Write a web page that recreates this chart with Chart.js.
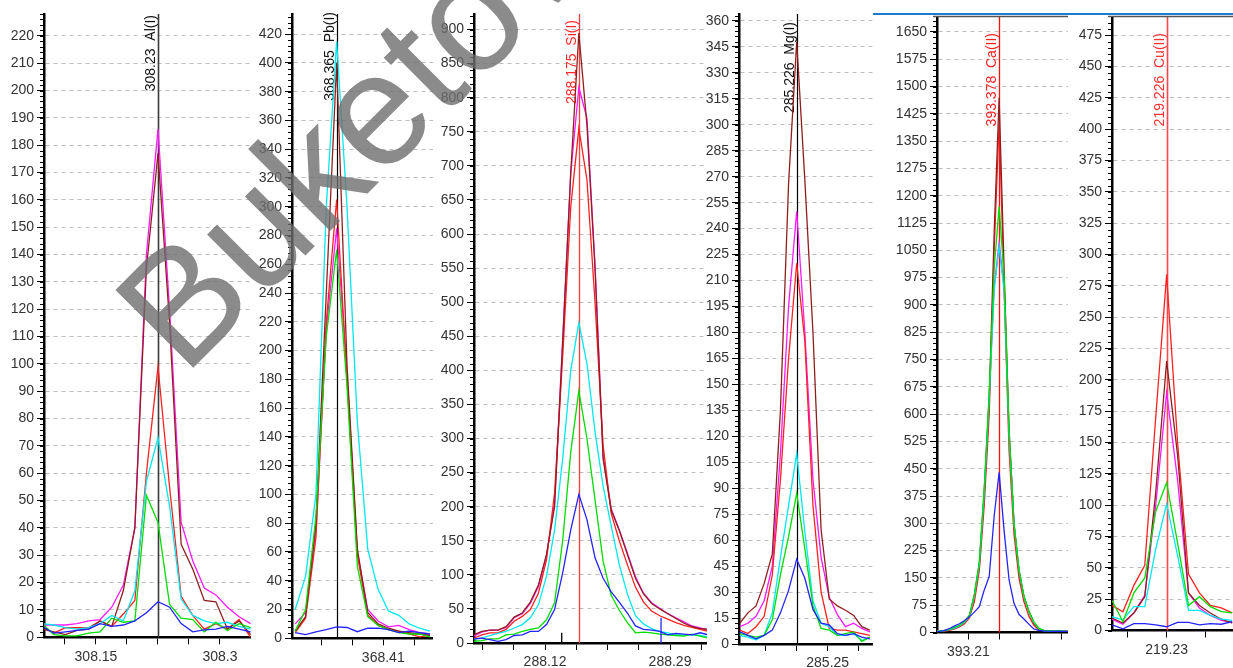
<!DOCTYPE html>
<html>
<head>
<meta charset="utf-8">
<script src="https://cdn.jsdelivr.net/npm/chart.js@4.4.1/dist/chart.umd.min.js"></script>
<style>
  html, body { margin: 0; padding: 0; background: #fff; }
  #wrap { position: relative; width: 1233px; height: 668px; overflow: hidden; background: #fff; }
  #wrap canvas { position: absolute; top: 0; }
  #topline { position: absolute; left: 873px; top: 13px; width: 360px; height: 2px; background: #1b7ad2; }
</style>
</head>
<body>
<div id="wrap"><div id="topline"></div></div>
<script>
// ---- Al(I) 308.23 ----
const alX = [308.085, 308.099, 308.113, 308.127, 308.141, 308.155, 308.169, 308.183, 308.197, 308.211,
             308.225, 308.239, 308.253, 308.267, 308.281, 308.295, 308.309, 308.323, 308.337];
const alMagenta = [4.5, 4.5, 4.5, 5, 6, 6.5, 11, 19, 40, 140, 186, 120, 42, 28, 18, 15.5, 11, 7.5, 5];
const alBrown   = [3, 2, 1, 2.5, 3, 6, 4, 17, 40, 135, 177, 115, 34, 25, 13.5, 13, 3, 6, 1];
const alRed     = [4, 1.5, 3.5, 3.5, 3.5, 6, 4, 8.5, 13.5, 60, 99, 55, 15, 8, 3, 5, 3, 6.5, 0];
const alCyan    = [5, 4.5, 3.5, 3, 3.5, 5, 8, 6, 17, 57, 73, 48, 14, 8, 6, 5, 5.5, 4, 3];
const alGreen   = [5, 1, 0.5, 0.5, 1.5, 2, 7, 5.5, 6, 52, 42, 12, 7, 6.5, 2, 5.5, 2.5, 5, 3.5];
const alBlue    = [4, 1.5, 2, 2.5, 3, 5, 4, 4.5, 6, 9, 13, 11, 5, 2, 2.7, 3, 4, 3, 2];
const alXTicks  = [308.1125, 308.15, 308.1875, 308.225, 308.2625, 308.3];
const alXLabels = ['', '308.15', '', '', '', '308.3'];

// ---- Pb(I) 368.365 ----
const pbX = [368.325, 368.335, 368.345, 368.355, 368.365, 368.375, 368.385,
             368.395, 368.405, 368.415, 368.425, 368.435, 368.445, 368.455];
const pbCyan    = [20, 43, 100, 300, 415, 300, 150, 62, 34, 19, 16, 10, 7, 5];
const pbBrown   = [5, 15, 80, 240, 400, 190, 62, 18, 10, 7, 5, 4, 3, 2];
const pbRed     = [4, 14, 70, 220, 305, 180, 58, 16, 9, 6, 5, 3, 1, 2];
const pbMagenta = [10, 18, 75, 215, 285, 185, 60, 20, 12, 8, 9, 6, 4, 3];
const pbGreen   = [5, 20, 85, 210, 270, 175, 50, 15, 9, 6, 4, 3, 3, 1];
const pbBlue    = [4, 2.5, 4.5, 6, 8, 7.5, 4.6, 7, 7, 6, 4, 5, 4, 3];
const pbXTicks  = [368.35, 368.38, 368.41, 368.44];
const pbXLabels = ['', '', '368.41', ''];

// ---- Si(I) 288.175 ----
const siX = [288.023, 288.034, 288.045, 288.056, 288.067, 288.078, 288.089, 288.100, 288.111, 288.122,
             288.133, 288.144, 288.155, 288.166, 288.177, 288.188, 288.199, 288.210, 288.221, 288.232,
             288.243, 288.254, 288.265, 288.276, 288.287, 288.298, 288.309, 288.320, 288.331, 288.342];
const siBrown   = [12, 17, 19, 19, 24, 38, 44, 60, 85, 130, 200, 440, 690, 895, 760, 550, 270, 195, 165, 130,
                   95, 72, 58, 50, 43, 36, 29, 24, 21, 20];
const siMagenta = [10, 16, 19, 19, 23, 37, 43, 58, 83, 128, 205, 445, 690, 815, 770, 555, 275, 197, 166, 132,
                   97, 73, 59, 51, 43, 37, 31, 25, 22, 19];
const siRed     = [7, 12, 15, 15, 20, 32, 39, 49, 73, 122, 220, 420, 640, 755, 680, 500, 290, 190, 150, 115,
                   82, 60, 47, 40, 35, 30, 26, 23, 20, 17];
const siCyan    = [6, 7, 11, 14, 17, 22, 27, 37, 56, 98, 166, 270, 400, 470, 410, 310, 230, 172, 115, 72,
                   40, 28, 21, 17, 15, 12, 12, 12, 11, 9];
const siGreen   = [2.5, 3.5, 6, 6, 12, 13, 17, 20, 22, 34, 59, 150, 280, 370, 300, 210, 120, 70, 48, 30,
                   15, 16, 15, 13, 12, 11, 10, 13, 10, 7];
const siBlue    = [6, 7, 5, 2.5, 5, 11, 12, 17, 17, 27, 49, 103, 166, 218, 181, 125, 95, 75, 60, 44,
                   25, 20, 19, 17, 12, 14, 13, 12, 15, 12];
const siMarkX   = [288.1427, 288.2778];
const siMarkTop = [15, 37];
const siXTicks  = [288.035, 288.0775, 288.12, 288.1625, 288.205, 288.2475, 288.29, 288.3325];
const siXLabels = ['', '', '288.12', '', '', '', '288.29', ''];

// ---- Mg(I) 285.226 ----
const mgX = [285.1819, 285.1882, 285.1945, 285.2008, 285.2071, 285.2134, 285.2197, 285.226, 285.2323,
             285.2386, 285.2449, 285.2512, 285.2575, 285.2638, 285.2701, 285.2764, 285.2827];
const mgBrown   = [12, 18, 22, 35, 52, 135, 266, 348, 268, 180, 66, 26, 22, 19.5, 16.5, 10, 8];
const mgMagenta = [10, 12, 16, 25, 45, 110, 195, 250, 180, 95, 50, 27, 17, 10, 12, 9, 7];
const mgRed     = [8, 6, 10, 16, 40, 95, 165, 220, 175, 80, 30, 9, 8, 8, 7, 6, 5];
const mgCyan    = [5, 4, 2.5, 5, 18, 50, 80, 110, 65, 25, 12, 10, 5, 5, 6, 2, 4];
const mgGreen   = [6, 5, 4, 5, 14, 40, 62, 87, 55, 22, 9, 8, 5, 6, 7, 1.5, 4];
const mgBlue    = [7, 5, 3, 5, 8, 18, 31, 49, 38, 20, 12, 11, 6, 5, 6, 4, 3];
const mgXTicks  = [285.202, 285.226, 285.25, 285.274];
const mgXLabels = ['', '', '285.25', ''];

// ---- Ca(II) 393.378 ----
const caX = [393.027, 393.054, 393.081, 393.108, 393.135, 393.162, 393.189, 393.216, 393.243, 393.270,
             393.297, 393.324, 393.351, 393.378, 393.405, 393.432, 393.459, 393.486, 393.513, 393.540,
             393.567, 393.594, 393.621, 393.648, 393.675, 393.702, 393.729, 393.756];
const caBrown   = [2, 3, 5, 8, 12, 18, 28, 45, 100, 185, 380, 640, 1100, 1470, 1000, 557, 300, 170, 99, 60,
                   26, 10, 5, 4, 3, 4, 3, 3];
const caRed     = [2, 3, 4, 6, 10, 15, 24, 40, 85, 170, 350, 600, 1050, 1400, 950, 500, 270, 150, 85, 45,
                   20, 8, 5, 4, 3, 4, 3, 3];
const caGreen   = [3, 4, 6, 9, 14, 20, 30, 48, 105, 195, 400, 660, 1000, 1170, 980, 560, 300, 175, 100, 58,
                   30, 12, 6, 5, 4, 5, 4, 3];
const caMagenta = [3, 4, 6, 9, 13, 19, 29, 46, 102, 190, 390, 650, 950, 1070, 950, 550, 295, 170, 97, 56,
                   27, 11, 6, 5, 4, 4, 3, 3];
const caCyan    = [3, 4, 5, 8, 12, 18, 28, 45, 100, 188, 385, 645, 940, 1060, 940, 545, 300, 172, 98, 57,
                   28, 11, 5, 4, 3, 4, 3, 3];
const caBlue    = [2, 3, 6, 11, 18, 24, 33, 43, 56, 71, 117, 154, 320, 440, 280, 145, 80, 50, 37, 23,
                   10, 6, 4, 4, 3, 4, 3, 3];
const caXTicks  = [393.21, 393.38, 393.55, 393.72];
const caXLabels = ['393.21', '', '', ''];

// ---- Cu(II) 219.226 ----
const cuX = [219.198, 219.2036, 219.2092, 219.2148, 219.2204, 219.226,
             219.2316, 219.2372, 219.2428, 219.2484, 219.254, 219.2596];
const cuRed     = [20, 15, 36, 52, 170, 284, 150, 45, 30, 20, 18, 14];
const cuBrown   = [10, 6, 14, 27, 110, 215, 140, 30, 20, 14, 9, 6];
const cuMagenta = [9, 5, 14, 28, 100, 190, 120, 30, 18, 12, 8, 6];
const cuGreen   = [24, 7, 30, 42, 95, 118, 70, 20, 27, 19, 15, 14];
const cuCyan    = [11, 8.5, 19, 19, 65, 101, 60, 16, 16, 12, 9, 8];
const cuBlue    = [4.5, 1.3, 5.5, 5.5, 4.5, 3, 6.5, 6.5, 4.5, 5.5, 5, 7];
const cuXTicks  = [219.206, 219.226, 219.246];
const cuXLabels = ['', '219.23', ''];

// line colours, first one is drawn on top
const COLORS = { blue: '#2323ff', green: '#00dd00', cyan: '#00e8f0', brown: '#8f1f1f', red: '#ff2020', magenta: '#ff19ff' };
const ORDER = ['blue', 'green', 'cyan', 'brown', 'red', 'magenta'];
const FONT = "'Liberation Sans', Arial, sans-serif";

const panels = [
  { axisX: 44, right: 251, top: 14, zero: 637.3, yMax: 228, yStep: 10, yMinor: 2,
    xMin: 308.0871, xMax: 308.3375, x: alX, xTicks: alXTicks, xLabels: alXLabels,
    series: { magenta: alMagenta, brown: alBrown, red: alRed, cyan: alCyan, green: alGreen, blue: alBlue },
    marker: 308.225, markerText: '308.23  Al(I)', markerColor: '#3a3a3a', markerWidth: 1.6, textColor: '#111', textTop: 15 },
  { axisX: 292, right: 433, top: 14, zero: 638.3, yMax: 434, yStep: 20, yMinor: 4,
    xMin: 368.3219, xMax: 368.458, x: pbX, xTicks: pbXTicks, xLabels: pbXLabels,
    series: { magenta: pbMagenta, brown: pbBrown, red: pbRed, cyan: pbCyan, green: pbGreen, blue: pbBlue },
    marker: 368.365, markerText: '368.365  Pb(I)', markerColor: '#000', markerWidth: 1.2, textColor: '#111', textTop: 12 },
  { axisX: 474, right: 707, top: 14, zero: 643, yMax: 922.8, yStep: 50, yMinor: 10,
    xMin: 288.0234, xMax: 288.3403, x: siX, xTicks: siXTicks, xLabels: siXLabels,
    series: { magenta: siMagenta, brown: siBrown, red: siRed, cyan: siCyan, green: siGreen, blue: siBlue },
    marks: { x: siMarkX, top: siMarkTop, colors: ['#000', '#2323ff'] },
    marker: 288.166, markerText: '288.175  Si(I)', markerColor: '#ff3a3a', markerWidth: 1.3, textColor: '#ff2a2a', textTop: 20 },
  { axisX: 739, right: 873, top: 14, zero: 644, yMax: 364, yStep: 15, yMinor: 3,
    xMin: 285.1813, xMax: 285.2851, x: mgX, xTicks: mgXTicks, xLabels: mgXLabels,
    series: { magenta: mgMagenta, brown: mgBrown, red: mgRed, cyan: mgCyan, green: mgGreen, blue: mgBlue },
    marker: 285.226, markerText: '285.226  Mg(I)', markerColor: '#000', markerWidth: 1.2, textColor: '#111', textTop: 22 },
  { axisX: 937, right: 1068, top: 17, zero: 632.5, yMax: 1691, yStep: 75, yMinor: 15,
    xMin: 393.0394, xMax: 393.7533, x: caX, xTicks: caXTicks, xLabels: caXLabels,
    series: { magenta: caMagenta, brown: caBrown, red: caRed, cyan: caCyan, green: caGreen, blue: caBlue },
    marker: 393.378, markerText: '393.378  Ca(II)', markerColor: '#ff1010', markerWidth: 1.3, textColor: '#ff2020', textTop: 33, topBorder: true },
  { axisX: 1112, right: 1233, top: 17, zero: 630.5, yMax: 489.6, yStep: 25, yMinor: 5,
    xMin: 219.198, xMax: 219.26, x: cuX, xTicks: cuXTicks, xLabels: cuXLabels,
    series: { magenta: cuMagenta, brown: cuBrown, red: cuRed, cyan: cuCyan, green: cuGreen, blue: cuBlue },
    marker: 219.226, markerText: '219.226  Cu(II)', markerColor: '#ff4848', markerWidth: 1.6, textColor: '#ff3030', textTop: 33, topBorder: true }
];

const panelPlugin = {
  id: 'panel',
  beforeDatasetsDraw(chart, args, o) {
    const { ctx, chartArea } = chart;
    const px = Math.round(chart.scales.x.getPixelForValue(o.marker)) + 0.5;
    ctx.save();
    ctx.strokeStyle = o.markerColor;
    ctx.lineWidth = o.markerWidth;
    ctx.beginPath();
    ctx.moveTo(px, chartArea.top);
    ctx.lineTo(px, chartArea.bottom);
    ctx.stroke();
    ctx.translate(px - 4, o.textTop);
    ctx.rotate(-Math.PI / 2);
    ctx.fillStyle = o.textColor;
    ctx.font = '14px ' + FONT;
    ctx.textAlign = 'right';
    ctx.textBaseline = 'alphabetic';
    ctx.fillText(o.markerText, 0, 0);
    ctx.restore();
  },
  afterDraw(chart, args, o) {
    const { ctx, chartArea } = chart;
    const y = chart.scales.y;
    ctx.save();
    ctx.strokeStyle = '#000';
    ctx.lineWidth = 1;
    ctx.beginPath();
    for (let v = 0; v <= y.max; v += o.yMinor) {
      const py = Math.round(y.getPixelForValue(v)) + 0.5;
      ctx.moveTo(chartArea.left - 4, py);
      ctx.lineTo(chartArea.left, py);
    }
    ctx.stroke();
    if (o.topBorder) {
      ctx.strokeStyle = '#555';
      ctx.lineWidth = 1.5;
      ctx.beginPath();
      ctx.moveTo(chartArea.left - 4, chartArea.top - 0.5);
      ctx.lineTo(chartArea.right, chartArea.top - 0.5);
      ctx.stroke();
    }
    ctx.restore();
  }
};

const wrap = document.getElementById('wrap');

function makePanel(p) {
  const left = p.axisX - 50;
  const w = p.right - left;
  const canvas = document.createElement('canvas');
  canvas.width = w;
  canvas.height = 668;
  canvas.style.left = left + 'px';
  canvas.style.width = w + 'px';
  canvas.style.height = '668px';
  wrap.appendChild(canvas);

  const datasets = ORDER.map(name => ({
    label: name,
    data: p.x.map((x, i) => ({ x: x, y: p.series[name][i] })),
    borderColor: COLORS[name],
    borderWidth: 1.3,
    pointRadius: 0,
    tension: 0,
    fill: false
  }));
  if (p.marks) {
    p.marks.x.forEach((mx, i) => {
      datasets.unshift({
        label: 'mark' + i,
        data: [{ x: mx, y: 0 }, { x: mx, y: p.marks.top[i] }],
        borderColor: p.marks.colors[i],
        borderWidth: 1.3,
        pointRadius: 0
      });
    });
  }

  new Chart(canvas, {
    type: 'line',
    data: { datasets },
    options: {
      responsive: false,
      animation: false,
      events: [],
      layout: { padding: { top: p.top, left: 0, right: 0, bottom: 0 } },
      plugins: {
        legend: { display: false },
        tooltip: { enabled: false },
        panel: {
          marker: p.marker, markerText: p.markerText, markerColor: p.markerColor,
          markerWidth: p.markerWidth, textColor: p.textColor, textTop: p.textTop,
          yMinor: p.yMinor, topBorder: !!p.topBorder
        }
      },
      scales: {
        x: {
          type: 'linear',
          min: p.xMin,
          max: p.xMax,
          afterBuildTicks: s => { s.ticks = p.xTicks.map(v => ({ value: v })); },
          afterFit: s => { s.height = 668 - p.zero; },
          ticks: {
            autoSkip: false, maxRotation: 0, padding: 4,
            callback: (v, i) => p.xLabels[i],
            font: { family: FONT, size: 14 }, color: '#333'
          },
          grid: { drawOnChartArea: false, tickLength: 7, tickColor: '#000' },
          border: { color: '#000', width: 2.5 }
        },
        y: {
          min: 0,
          max: p.yMax,
          afterFit: s => { s.width = 50; },
          ticks: {
            stepSize: p.yStep, includeBounds: false, autoSkip: false, padding: 3,
            callback: v => String(v),
            font: { family: FONT, size: 14 }, color: '#333'
          },
          grid: { color: '#bdbdbd', lineWidth: 1, tickLength: 7, tickColor: '#000' },
          border: { color: '#000', width: 2.5, dash: [4, 4] }
        }
      }
    },
    plugins: [panelPlugin]
  });
}

panels.forEach(makePanel);

// watermark over the whole picture
const wm = document.createElement('canvas');
wm.width = 1233; wm.height = 668;
wm.style.left = '0px';
wm.style.pointerEvents = 'none';
wrap.appendChild(wm);
const wctx = wm.getContext('2d');
wctx.save();
wctx.translate(184, 377);
wctx.rotate(-Math.PI / 4);
wctx.font = '160px ' + FONT;
wctx.fillStyle = 'rgba(110,110,110,0.8)';
wctx.textBaseline = 'alphabetic';
wctx.fillText('Buketov', 0, 0);
wctx.restore();
</script>
</body>
</html>
